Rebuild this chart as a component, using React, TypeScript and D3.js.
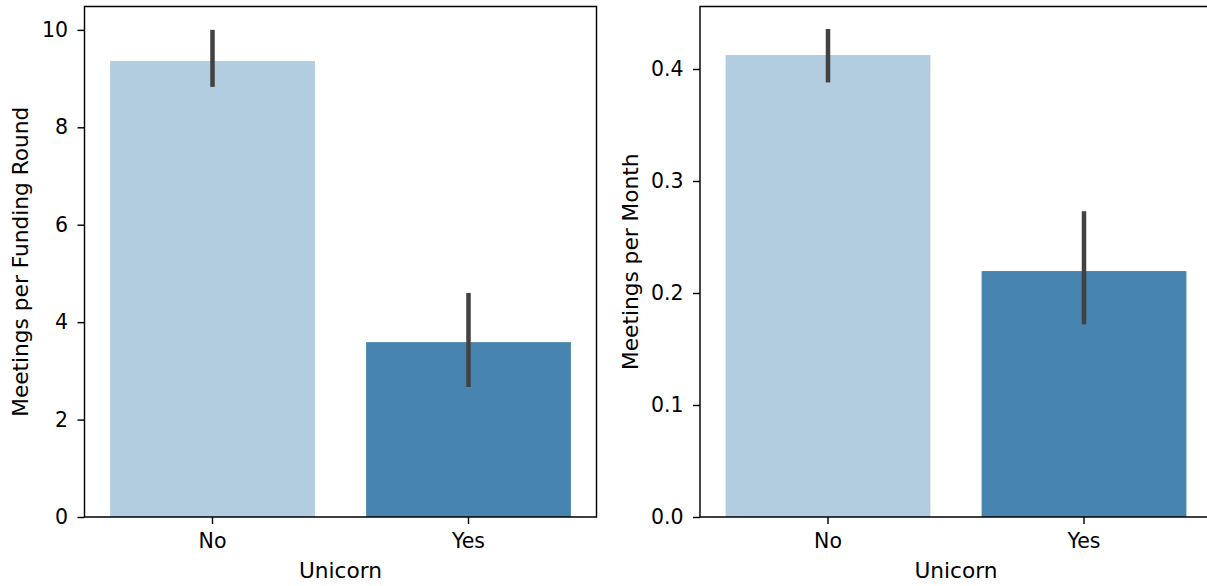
import React, { useEffect, useRef } from 'react';
import * as d3 from 'd3';

// data
const categories = ['No', 'Yes'];
const perRound = [9.36, 3.59];
const perRoundLow = [8.83, 2.67];
const perRoundHigh = [10.0, 4.6];
const perMonth = [0.4125, 0.2196];
const perMonthLow = [0.388, 0.172];
const perMonthHigh = [0.4357, 0.273];
const roundTicks = [0, 2, 4, 6, 8, 10];
const monthTicks = [0, 0.1, 0.2, 0.3, 0.4];

const colors = ['#b3cde0', '#4884b0'];

const App = () => {
  const svgRef = useRef<SVGSVGElement>(null);

  useEffect(() => {
    const width = 1207;
    const height = 586;
    const top = 6.5;
    const bottom = 517;
    const font = 'DejaVu Sans, sans-serif';
    const tickSize = 20.5;
    const labelSize = 21.7;

    const svg = d3.select(svgRef.current)
      .attr('width', width)
      .attr('height', height);
    svg.selectAll('*').remove();

    const panels = [
      { x0: 84.5, w: 512, vals: perRound, lo: perRoundLow, hi: perRoundHigh, ymax: 10.48, ticks: roundTicks, fmt: d3.format('d'), label: 'Meetings per Funding Round', labelX: 20 },
      { x0: 700, w: 512, vals: perMonth, lo: perMonthLow, hi: perMonthHigh, ymax: 0.4558, ticks: monthTicks, fmt: d3.format('.1f'), label: 'Meetings per Month', labelX: 630 },
    ];

    panels.forEach(p => {
      const x = d3.scaleBand<string>()
        .domain(categories)
        .range([p.x0, p.x0 + p.w])
        .paddingInner(0.2)
        .paddingOuter(0.1);
      const y = d3.scaleLinear().domain([0, p.ymax]).range([bottom, top]);

      const g = svg.append('g');

      // bars
      g.selectAll('rect.bar')
        .data(p.vals)
        .enter()
        .append('rect')
        .attr('x', (d, i) => x(categories[i])!)
        .attr('width', x.bandwidth())
        .attr('y', d => y(d))
        .attr('height', d => y(0) - y(d))
        .attr('fill', (d, i) => colors[i]);

      // error bars
      g.selectAll('line.err')
        .data(p.vals)
        .enter()
        .append('line')
        .attr('x1', (d, i) => x(categories[i])! + x.bandwidth() / 2)
        .attr('x2', (d, i) => x(categories[i])! + x.bandwidth() / 2)
        .attr('y1', (d, i) => y(p.lo[i]))
        .attr('y2', (d, i) => y(p.hi[i]))
        .attr('stroke', '#424242')
        .attr('stroke-width', 4.5);

      // axes
      const yAxis = d3.axisLeft(y).tickValues(p.ticks).tickFormat(p.fmt as any).tickSize(7).tickPadding(9.5);
      const yg = g.append('g').attr('transform', `translate(${p.x0},0)`).call(yAxis);
      const xAxis = d3.axisBottom(x).tickSize(7).tickPadding(9);
      const xg = g.append('g').attr('transform', `translate(0,${bottom})`).call(xAxis);

      [yg, xg].forEach(a => {
        a.select('.domain').remove();
        a.selectAll('line').attr('stroke', '#000').attr('stroke-width', 1.44);
        a.selectAll('text').attr('font-family', font).attr('font-size', tickSize).attr('fill', '#000');
      });

      // spines
      const x1 = p.x0 + p.w;
      g.append('path')
        .attr('d', `M${p.x0},${top}H${x1}M${p.x0},${bottom}H${x1}M${p.x0},${top}V${bottom}M${x1},${top}V${bottom}`)
        .attr('fill', 'none')
        .attr('stroke', '#000')
        .attr('stroke-width', 1.44)
        .attr('stroke-linecap', 'square');

      // labels
      g.append('text')
        .attr('x', p.x0 + p.w / 2)
        .attr('y', 578)
        .attr('text-anchor', 'middle')
        .attr('font-family', font)
        .attr('font-size', labelSize)
        .text('Unicorn');

      g.append('text')
        .attr('transform', `translate(${p.labelX},${(top + bottom) / 2}) rotate(-90)`)
        .attr('text-anchor', 'middle')
        .attr('dy', '0.35em')
        .attr('font-family', font)
        .attr('font-size', labelSize)
        .text(p.label);
    });
  }, []);

  return (
    <svg ref={svgRef} style={{ position: 'absolute', left: 0, top: 0, background: '#fff' }}></svg>
  );
};

export default App;
